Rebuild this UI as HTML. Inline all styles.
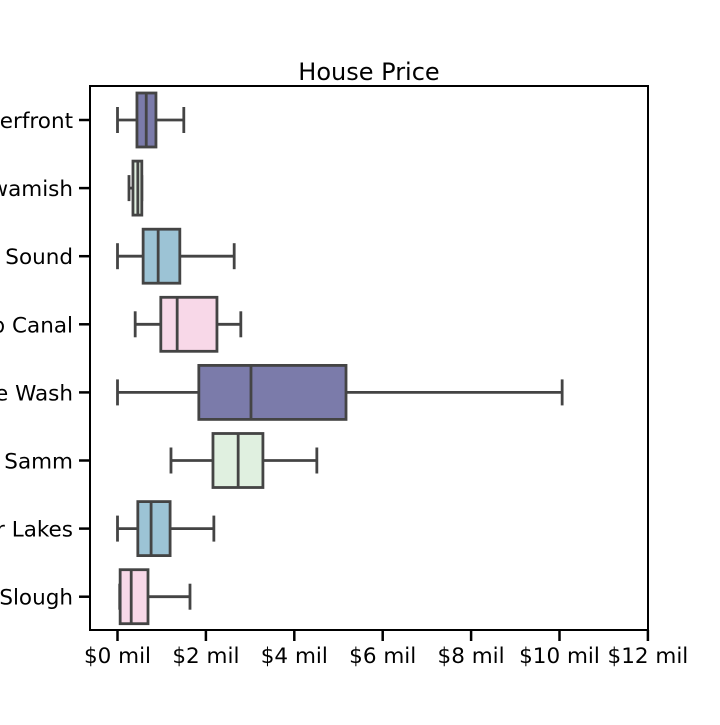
<!DOCTYPE html>
<html><head><meta charset="utf-8"><style>
body{margin:0;background:#fff;}
svg text{font-family:"DejaVu Sans","Liberation Sans",sans-serif;fill:#000;}
</style></head><body>
<svg id="chart" width="720" height="720" xmlns="http://www.w3.org/2000/svg">
<text x="369" y="80" font-size="24" text-anchor="middle">House Price</text>
<g id="marks"></g>
<rect x="90" y="86" width="558" height="544" fill="none" stroke="#000" stroke-width="2"/>
<g id="axes"></g>
</svg>
<script>
const categories=["Waterfront","Duwamish","Puget Sound","Ship Canal","Lake Wash","Lake Samm","Other Lakes","Slough"];
const whiskerLow=[0,0.26,0,0.4,0,1.21,0,0.05];
const q1=[0.44,0.35,0.58,0.98,1.84,2.16,0.46,0.06];
const medians=[0.65,0.46,0.92,1.35,3.02,2.73,0.76,0.31];
const q3=[0.87,0.55,1.41,2.25,5.17,3.29,1.19,0.69];
const whiskerHigh=[1.5,0.55,2.64,2.79,10.06,4.51,2.18,1.64];
const xTicks=[0,2,4,6,8,10,12];
const xTickLabels=["$0 mil","$2 mil","$4 mil","$6 mil","$8 mil","$10 mil","$12 mil"];
const colors=["#7b7baa","#e0f0e0","#9cc3d5","#f8d8e8"];
const ns="http://www.w3.org/2000/svg";
const x=v=>117.5+v*44.2;
const y=i=>120+i*68.1;
function mk(tag,attrs,parent){const e=document.createElementNS(ns,tag);for(const k in attrs)e.setAttribute(k,attrs[k]);parent.appendChild(e);return e;}
const marks=document.getElementById('marks'),axes=document.getElementById('axes');
categories.forEach((c,i)=>{
  const g=mk('g',{},marks);
  
  
  const cy=y(i),h=27,st={stroke:'#444','stroke-width':2.8};
  mk('line',Object.assign({x1:x(whiskerLow[i]),x2:x(q1[i]),y1:cy,y2:cy},st),g);
  mk('line',Object.assign({x1:x(q3[i]),x2:x(whiskerHigh[i]),y1:cy,y2:cy},st),g);
  mk('line',Object.assign({x1:x(whiskerLow[i]),x2:x(whiskerLow[i]),y1:cy-13,y2:cy+13},st),g);
  mk('line',Object.assign({x1:x(whiskerHigh[i]),x2:x(whiskerHigh[i]),y1:cy-13,y2:cy+13},st),g);
  mk('rect',Object.assign({x:x(q1[i]),y:cy-h,width:x(q3[i])-x(q1[i]),height:2*h,fill:colors[i%4]},st),g);
  mk('line',Object.assign({x1:x(medians[i]),x2:x(medians[i]),y1:cy-h,y2:cy+h},st),g);
  mk('line',{x1:79,x2:90,y1:cy,y2:cy,stroke:'#000','stroke-width':2.5},axes);
  const t=mk('text',{x:73,y:cy+8,'font-size':21.5,'text-anchor':'end'},axes);
  t.textContent=c;
  
  
});
xTicks.forEach((v,i)=>{
  mk('line',{x1:x(v),x2:x(v),y1:630,y2:641,stroke:'#000','stroke-width':2.5},axes);
  const t=mk('text',{x:x(v),y:663,'font-size':21.5,'text-anchor':'middle'},axes);
  t.textContent=xTickLabels[i];
  
  
});
</script>
</body></html>
